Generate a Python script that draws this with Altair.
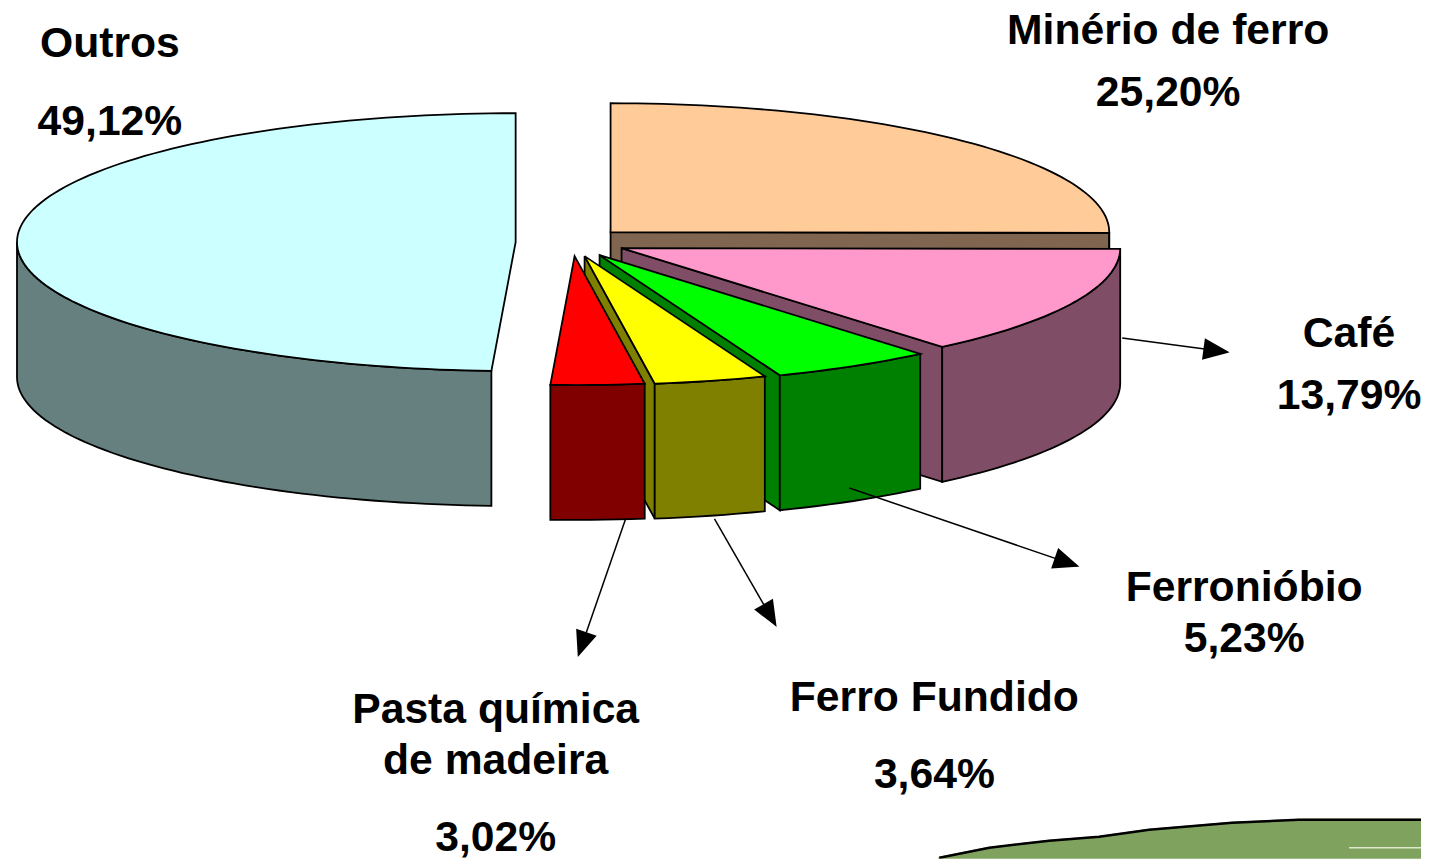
import math
import altair as alt

# --- chart values -----------------------------------------------------------
names = ["Minério de ferro", "Café", "Ferronióbio", "Ferro Fundido", "Pasta química de madeira", "Outros"]
shares = [25.20, 13.79, 5.23, 3.64, 3.02, 49.12]
top_colors = ["#FFCC99", "#FF99CC", "#00FF00", "#FFFF00", "#FF0000", "#CCFFFF"]
side_colors = ["#806650", "#804D66", "#008000", "#808000", "#800000", "#668080"]
# exploded pie: apex of every slice (page pixels, less the 8px margin)
apex_x = [603, 614, 592, 577, 567, 508]
apex_y = [224, 240, 247, 248, 248, 234]

radius_x, radius_y, depth = 499, 129, 135
cut_nudge = 0.38  # the inner cuts sit a hair earlier than the pure shares

label_text = ["Outros", "49,12%", "Minério de ferro", "25,20%", "Café", "13,79%", "Ferronióbio", "5,23%",
              "Ferro Fundido", "3,64%", "Pasta química", "de madeira", "3,02%"]
label_x = [102, 102, 1161, 1161, 1342, 1342, 1237, 1237, 927, 927, 488, 488, 488]
label_y = [49, 127, 36, 98, 339, 401, 593, 644, 703, 780, 715, 766, 843]

arrow_from = [(1115, 330), (842, 480), (707, 511), (618, 511)]
arrow_to = [(1220, 344), (1070, 558), (768, 617), (571, 647)]

band_x = [932, 982, 1042, 1092, 1142, 1225, 1292, 1422, 1422, 932]
band_y = [850, 840, 833, 829, 822, 815, 812, 812, 860, 860]
highlight_x = [1342, 1422]
highlight_y = [840, 840]


def feature(points, fill, stroke="black"):
    ring = [list(p) for p in points]
    ring.append(ring[0])
    return {"type": "Feature", "geometry": {"type": "Polygon", "coordinates": [ring]},
            "properties": {"fill": fill, "stroke": stroke}}


def rim(cx, cy, a0, a1, dy=0):
    n = max(2, int(abs(a1 - a0) / 1.5))
    return [(cx + radius_x * math.sin(math.radians(a0 + (a1 - a0) * i / n)),
             cy - radius_y * math.cos(math.radians(a0 + (a1 - a0) * i / n)) + dy) for i in range(n + 1)]


def wedge_features():
    out = []
    cuts = [0.0]
    for s in shares:
        cuts.append(cuts[-1] + s * 3.6)
    cuts = [c if i in (0, len(shares)) else c - cut_nudge for i, c in enumerate(cuts)]
    spans = list(zip(cuts[:-1], cuts[1:]))
    for i in [5, 0, 1, 2, 3, 4]:
        a0, a1 = spans[i]
        cx, cy = apex_x[i], apex_y[i]
        end_pt = rim(cx, cy, a1, a1)[0]
        # wall along the cut at the end of the slice, when it faces the viewer
        if math.sin(math.radians(a1)) > 0:
            out.append(feature([(cx, cy), end_pt, (end_pt[0], end_pt[1] + depth), (cx, cy + depth)], side_colors[i]))
        # curved outer wall (only the part in front)
        v0, v1 = max(a0, 90), min(a1, 270)
        if v1 > v0:
            upper = rim(cx, cy, v0, v1)
            lower = rim(cx, cy, v1, v0, depth)
            out.append(feature(upper + lower, side_colors[i]))
        # top face
        out.append(feature([(cx, cy)] + rim(cx, cy, a0, a1), top_colors[i]))
    return out


def arrow_head(p, q, length=23, half=9.5):
    dx, dy = q[0] - p[0], q[1] - p[1]
    d = math.hypot(dx, dy)
    ux, uy = dx / d, dy / d
    bx, by = q[0] - ux * length, q[1] - uy * length
    return feature([q, (bx - uy * half, by + ux * half), (bx + uy * half, by - ux * half)], "black")


projection = dict(type="identity", scale=1, translate=[0, 0])

background = feature(list(zip(band_x, band_y)), "#7FA25F", stroke="#7FA25F")
band_edge = {"type": "Feature", "properties": {},
             "geometry": {"type": "LineString", "coordinates": [[x, y] for x, y in zip(band_x[:8], band_y[:8])]}}
light = {"type": "Feature", "properties": {},
         "geometry": {"type": "LineString", "coordinates": [[x, y] for x, y in zip(highlight_x, highlight_y)]}}
arrow_lines = [{"type": "Feature", "properties": {},
                "geometry": {"type": "LineString", "coordinates": [list(a), list(b)]}}
               for a, b in zip(arrow_from, arrow_to)]

fills = [background] + wedge_features() + [arrow_head(a, b) for a, b in zip(arrow_from, arrow_to)]

pie = alt.Chart(alt.Data(values=fills)).mark_geoshape(strokeWidth=1.8).encode(
    fill=alt.Fill("properties.fill:N", scale=None),
    stroke=alt.Stroke("properties.stroke:N", scale=None),
).project(**projection)

edge = alt.Chart(alt.Data(values=[band_edge])).mark_geoshape(filled=False, stroke="black", strokeWidth=2.5).project(**projection)
shine = alt.Chart(alt.Data(values=[light])).mark_geoshape(filled=False, stroke="#DDE8CC", strokeWidth=1.5).project(**projection)
lines = alt.Chart(alt.Data(values=arrow_lines)).mark_geoshape(filled=False, stroke="black", strokeWidth=1.5).project(**projection)

labels = alt.Chart(alt.Data(values=[{"t": t, "x": x, "y": y} for t, x, y in zip(label_text, label_x, label_y)])).mark_text(
    font="Liberation Sans", fontWeight="bold", fontSize=42.7, align="center", baseline="alphabetic", color="black"
).encode(
    x=alt.X("x:Q", scale=None, axis=None),
    y=alt.Y("y:Q", scale=None, axis=None),
    text="t:N",
)

chart = alt.layer(pie, edge, shine, lines, labels).properties(
    width=1414, height=851, padding=0, background="white"
).configure_view(stroke=None)

chart.save("out.html", embed_options={"renderer": "svg", "actions": False})
